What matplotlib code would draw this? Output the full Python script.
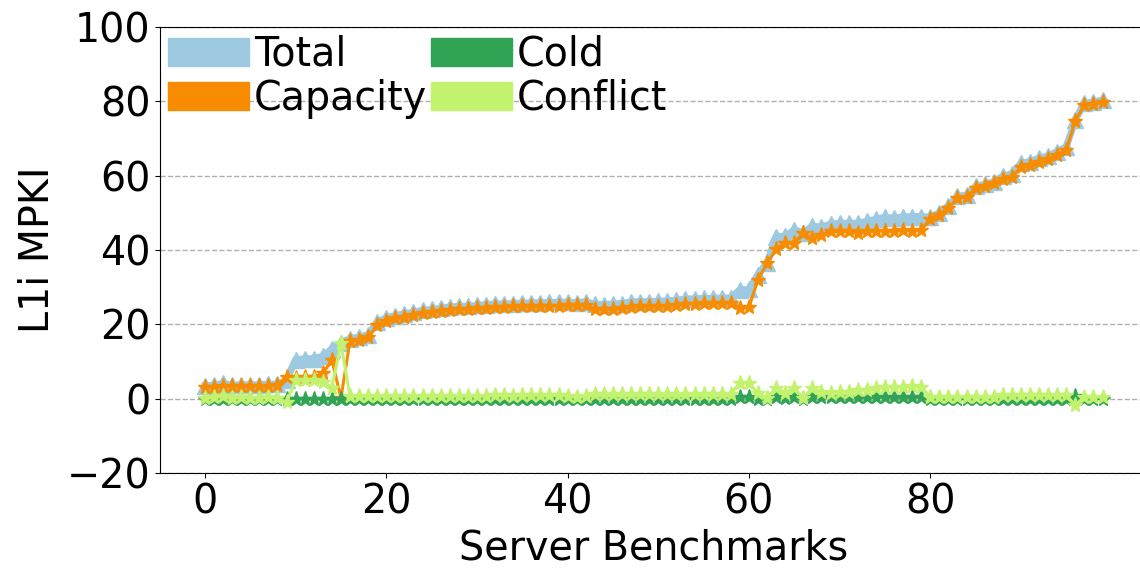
import numpy as np
import matplotlib
matplotlib.use("Agg")
import matplotlib.pyplot as plt
from matplotlib.patches import Patch

# L1i MPKI per server benchmark
total = [3.5, 3.6, 4.1, 3.6, 3.8, 3.7, 3.8, 3.9, 3.9, 4.9,
         10.5, 10.7, 10.8, 11.4, 13.4, 15.1, 16.1, 16.6, 17.2, 20.5,
         21.8, 22.3, 22.9, 23.2, 23.8, 24.0, 24.3, 24.7, 24.8, 24.9,
         25.1, 25.3, 25.5, 25.5, 25.6, 25.7, 25.8, 25.8, 25.9, 25.9,
         26.0, 25.8, 26.1, 25.4, 25.3, 25.5, 25.6, 26.0, 26.1, 26.1,
         26.2, 26.3, 26.5, 26.8, 26.9, 27.0, 27.0, 27.1, 27.1, 29.3,
         29.4, 33.4, 36.6, 43.6, 43.7, 45.4, 44.7, 46.4, 46.2, 47.0,
         47.2, 47.2, 47.2, 47.7, 48.3, 48.8, 48.6, 48.9, 49.0, 49.0,
         48.9, 50.0, 51.9, 54.4, 54.8, 57.1, 57.7, 58.4, 59.9, 60.5,
         63.3, 63.8, 64.7, 65.3, 66.5, 67.8, 75.0, 79.5, 79.8, 80.4]

capacity = [3.2, 3.2, 3.3, 3.3, 3.4, 3.4, 3.5, 3.5, 3.6, 5.9,
            5.5, 5.7, 5.8, 6.8, 10.4, 0.2, 15.5, 15.9, 16.5, 19.8,
            21.0, 21.6, 22.1, 22.5, 23.0, 23.2, 23.6, 23.9, 24.0, 24.1,
            24.3, 24.5, 24.6, 24.6, 24.8, 24.8, 24.9, 24.9, 25.0, 25.0,
            25.2, 25.3, 25.3, 24.1, 24.0, 24.2, 24.3, 24.7, 24.8, 24.8,
            24.9, 25.0, 25.2, 25.5, 25.6, 25.7, 25.7, 25.8, 25.8, 24.5,
            24.6, 32.0, 36.4, 40.2, 42.0, 42.0, 44.5, 43.1, 44.0, 45.2,
            45.0, 45.0, 44.5, 45.0, 45.1, 45.2, 45.0, 45.3, 45.2, 45.4,
            48.4, 49.5, 51.4, 53.9, 54.3, 56.6, 57.2, 57.9, 59.0, 59.6,
            62.4, 62.9, 63.8, 64.4, 65.6, 66.9, 74.7, 79.0, 79.3, 79.9]

cold = [0.0, 0.0, 0.0, 0.0, 0.0, 0.0, 0.0, 0.0, 0.0, 0.0,
        0.0, 0.0, 0.0, 0.0, 0.0, 0.0, 0.0, 0.0, 0.0, 0.0,
        0.0, 0.0, 0.0, 0.0, 0.0, 0.0, 0.0, 0.0, 0.0, 0.0,
        0.0, 0.0, 0.0, 0.0, 0.0, 0.0, 0.0, 0.0, 0.0, 0.0,
        0.0, 0.0, 0.0, 0.0, 0.0, 0.0, 0.0, 0.0, 0.0, 0.0,
        0.0, 0.0, 0.0, 0.0, 0.0, 0.0, 0.0, 0.0, 0.0, 0.5,
        0.5, 0.0, 0.0, 0.5, 0.3, 0.5, 0.0, 0.4, 0.4, 0.4,
        0.4, 0.4, 0.4, 0.4, 0.4, 0.4, 0.4, 0.4, 0.4, 0.4,
        0.0, 0.0, 0.0, 0.0, 0.0, 0.0, 0.0, 0.0, 0.0, 0.0,
        0.0, 0.0, 0.0, 0.0, 0.0, 0.0, 0.6, 0.0, 0.0, 0.0]

conflict = [0.3, 0.4, 0.8, 0.3, 0.4, 0.3, 0.3, 0.4, 0.3, -1.0,
            5.0, 5.0, 5.0, 4.6, 3.0, 14.9, 0.6, 0.7, 0.7, 0.7,
            0.8, 0.7, 0.8, 0.7, 0.8, 0.8, 0.7, 0.8, 0.8, 0.8,
            0.8, 0.8, 0.9, 0.9, 0.8, 0.9, 0.9, 0.9, 0.9, 0.9,
            0.8, 0.5, 0.8, 1.3, 1.3, 1.3, 1.3, 1.3, 1.3, 1.3,
            1.3, 1.3, 1.3, 1.3, 1.3, 1.3, 1.3, 1.3, 1.3, 4.3,
            4.3, 1.4, 0.2, 2.9, 1.4, 2.9, 0.2, 2.9, 1.8, 1.4,
            1.8, 1.8, 2.3, 2.3, 2.8, 3.2, 3.2, 3.2, 3.4, 3.2,
            0.5, 0.5, 0.5, 0.5, 0.5, 0.5, 0.5, 0.5, 0.9, 0.9,
            0.9, 0.9, 0.9, 0.9, 0.9, 0.9, -1.7, 0.5, 0.5, 0.5]

labels = ["Total", "Capacity", "Cold", "Conflict"]
colors = ["#9ecae1", "#f78c00", "#31a354", "#c2f26e"]


def main():
    plt.rc('font', size=28.5)
    fig = plt.figure(figsize=(11.4, 5.72), dpi=100)
    ax = fig.add_axes([0.1404, 0.1731, 0.8661, 0.7797])

    x = np.arange(len(total))
    ax.plot(x, total, '^-', lw=5, ms=11.5, color=colors[0], zorder=2)
    ax.plot(x, capacity, '*-', lw=2.2, ms=11, color=colors[1], zorder=3)
    ax.plot(x, cold, '*-', lw=2.2, ms=11, color=colors[2], zorder=4)
    ax.plot(x, conflict, '*-', lw=2.2, ms=11, color=colors[3], zorder=5)

    ax.set_ylim(-20, 100)
    ax.set_yticks([-20, 0, 20, 40, 60, 80, 100])
    ax.set_xticks([0, 20, 40, 60, 80])
    ax.yaxis.grid(True, linestyle='--', color='#b0b0b0', lw=1)
    ax.set_axisbelow(True)
    ax.set_xlabel("Server Benchmarks", labelpad=4)
    ax.set_ylabel("L1i MPKI", labelpad=6)

    handles = [Patch(facecolor=c, edgecolor=c) for c in colors]
    ax.legend(handles, labels, ncol=2, loc='upper left', frameon=False,
              handlelength=2.05, handleheight=0.7, handletextpad=0.12,
              columnspacing=0.1, labelspacing=0.1, borderaxespad=0.1,
              borderpad=0.1)

    fig.savefig("out.png", dpi=100)


if __name__ == "__main__":
    main()
